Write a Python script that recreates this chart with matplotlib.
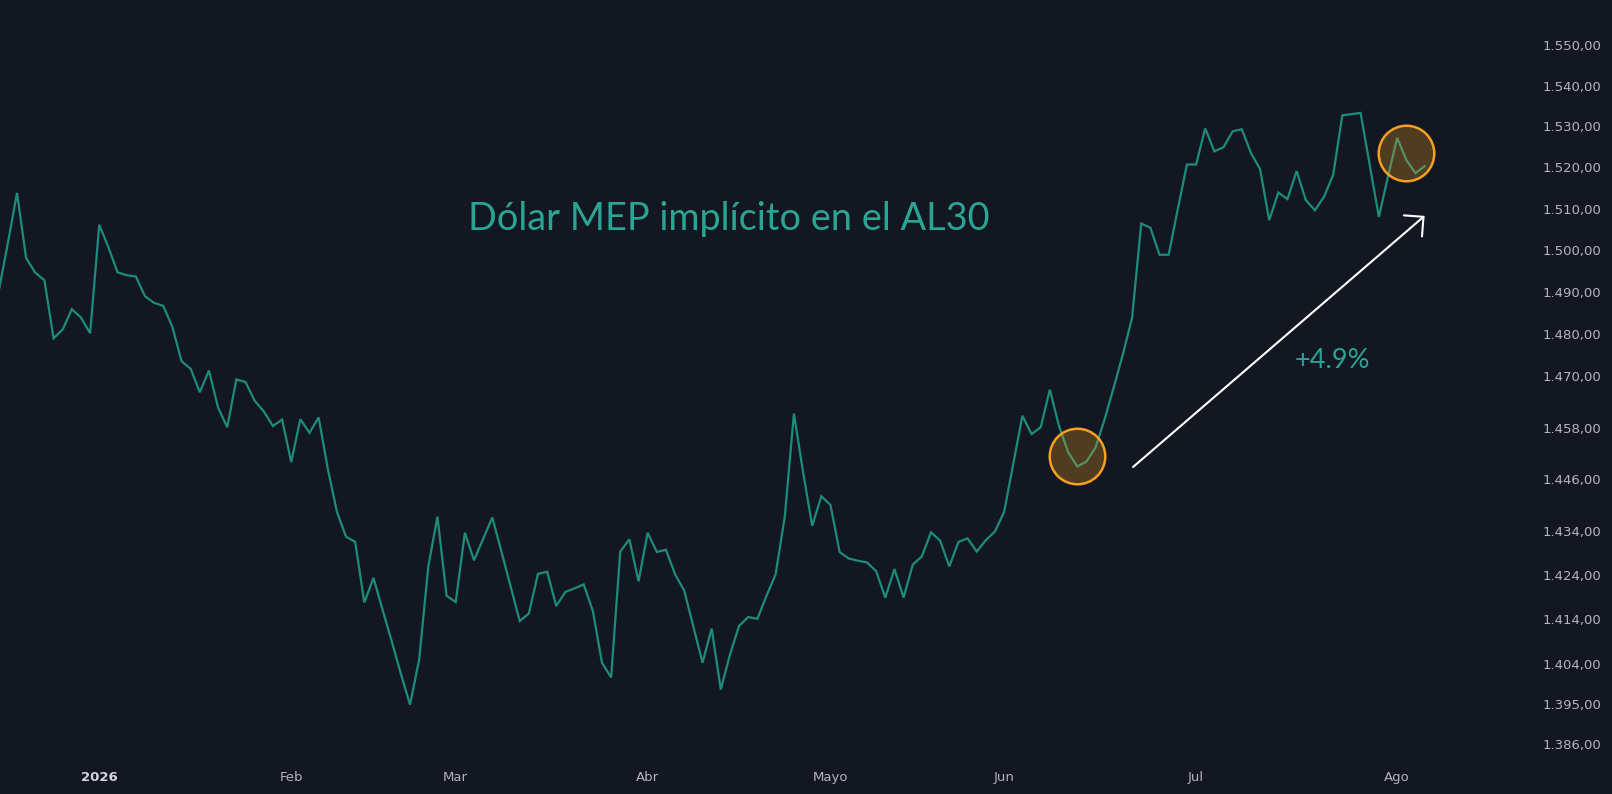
import numpy as np
import matplotlib.pyplot as plt
from matplotlib.ticker import NullLocator, NullFormatter

# Dolar MEP implicito en el AL30, una rueda por punto (indice 0 = 2 de enero 2026)
valores = [1490.2, 1501.7, 1513.8, 1498.1, 1494.6, 1492.8, 1479.0, 1481.1, 1485.9, 1483.9, 1480.2,
           1506.1, 1500.7, 1494.7, 1494.0, 1493.7, 1489.0, 1487.4, 1486.7, 1481.7, 1473.6,
           1471.8, 1466.3, 1471.4, 1462.7, 1458.1, 1469.3, 1468.7, 1464.3, 1461.8, 1458.4,
           1459.9, 1450.0, 1460.0, 1456.8, 1460.4, 1448.5, 1438.5, 1432.8, 1431.6, 1417.8,
           1423.4, 1416.1, 1409.0, 1401.7, 1394.8, 1404.9, 1426.0, 1437.4, 1419.3, 1417.9,
           1433.7, 1427.4, 1432.3, 1437.2, 1429.4, 1421.5, 1413.6, 1415.3, 1424.3, 1424.8,
           1417.0, 1420.2, 1421.0, 1421.9, 1415.9, 1404.2, 1400.9, 1429.4, 1432.2, 1422.6,
           1433.7, 1429.3, 1429.8, 1424.2, 1420.5, 1412.3, 1404.2, 1411.9, 1398.2, 1406.0,
           1412.5, 1414.5, 1414.1, 1419.3, 1424.2, 1437.4, 1461.3, 1447.7, 1435.3, 1442.1,
           1440.1, 1429.3, 1427.8, 1427.3, 1426.9, 1424.9, 1418.9, 1425.4, 1418.9, 1426.4,
           1428.3, 1433.8, 1431.9, 1426.0, 1431.6, 1432.4, 1429.4, 1432.0, 1434.0, 1438.5,
           1449.6, 1460.8, 1456.5, 1458.1, 1466.9, 1458.4, 1452.3, 1449.0, 1450.1, 1453.4,
           1460.0, 1467.5, 1475.3, 1483.9, 1506.4, 1505.4, 1498.9, 1498.9, 1509.9, 1520.7,
           1520.7, 1529.5, 1523.9, 1524.9, 1528.8, 1529.3, 1523.5, 1519.6, 1507.2, 1513.9,
           1512.3, 1519.1, 1512.1, 1509.6, 1512.9, 1518.2, 1532.7, 1533.0, 1533.3, 1520.5,
           1508.0, 1517.8, 1527.2, 1521.8, 1518.6, 1520.3]
primer_idx = -11

meses = ['2026', 'Feb', 'Mar', 'Abr', 'Mayo', 'Jun', 'Jul', 'Ago']
idx_meses = [0, 21, 39, 60, 80, 99, 120, 142]

precios_eje = [1550, 1540, 1530, 1520, 1510, 1500, 1490, 1480, 1470, 1458,
               1446, 1434, 1424, 1414, 1404, 1395, 1386]

idx_minimo = 107   # minimo de junio marcado
idx_maximo = 143   # ultimo tramo marcado
variacion = '+4.9%'

#%%
fondo = '#131722'
verde = '#1e8c7a'
texto_verde = '#2aa593'
naranja = '#f5a020'
gris = '#b2b5be'

x = np.arange(primer_idx, primer_idx + len(valores))
y = np.array(valores)

fig = plt.figure(figsize=(16.12, 7.94), dpi=100, facecolor=fondo)
ax = fig.add_axes([0, 28 / 794, 1535 / 1612, 766 / 794])
ax.set_facecolor(fondo)

ax.plot(x, y, color=verde, lw=1.6, solid_joinstyle='miter')

# circulos sobre los puntos (centro = promedio de los vecinos)
for i, n in [(idx_minimo, 1), (idx_maximo, 1)]:
    k = i - primer_idx
    yc = y[k - n:k + n + 1].mean()
    ax.plot([i], [yc * 1.0006], 'o', ms=40, mfc=(0.96, 0.63, 0.13, 0.27), mec=naranja, mew=1.8, zorder=3)

# flecha
k0 = idx_minimo - primer_idx
k1 = idx_maximo - primer_idx
ax.annotate('', xy=(idx_maximo + 2.0, y[k1] * 0.9911), xytext=(idx_minimo + 6.1, y[k0] * 0.9999),
            arrowprops=dict(arrowstyle='->,head_length=0.5,head_width=0.5', color='white',
                            lw=1.5, mutation_scale=20, shrinkA=0, shrinkB=0))

ax.text(0.4749, 0.6997, 'Dólar MEP implícito en el AL30', transform=ax.transAxes,
        ha='center', va='baseline', fontsize=27.3, family='Lato', color=texto_verde)
ax.text(0.8678, 0.5192, variacion, transform=ax.transAxes,
        ha='center', va='baseline', fontsize=19.5, family='Lato', color=texto_verde)

# ejes
ax.set_yscale('log')
ax.set_xlim(-10.86, 157.08)
ax.set_ylim(1381.19, 1561.25)
ax.yaxis.tick_right()
ax.set_yticks(precios_eje)
ax.set_yticklabels([f'{p:,.2f}'.replace(',', ' ').replace('.', ',').replace(' ', '.') for p in precios_eje])
ax.yaxis.set_minor_locator(NullLocator())
ax.yaxis.set_minor_formatter(NullFormatter())
ax.set_xticks(idx_meses)
ax.set_xticklabels(meses)
ax.tick_params(axis='both', length=0, labelsize=9.5, labelcolor=gris)
ax.tick_params(axis='y', pad=5.8)
ax.tick_params(axis='x', pad=3.5)
ax.get_xticklabels()[0].set_color('#d1d4dc')
ax.get_xticklabels()[0].set_fontweight('bold')
for s in ax.spines.values():
    s.set_visible(False)

fig.savefig('out.png', dpi=100, facecolor=fondo)
